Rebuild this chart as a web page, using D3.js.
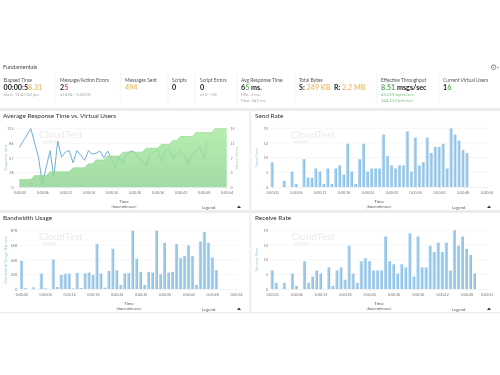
<!DOCTYPE html>
<html><head><meta charset="utf-8">
<script src="https://cdn.jsdelivr.net/npm/d3@7/dist/d3.min.js"></script>
<style>
html,body{margin:0;padding:0;background:#fff}
svg{display:block;filter:blur(0.45px)}
text{font-family:Lato,"Open Sans",sans-serif}
</style></head><body><svg id="c" width="500" height="375"></svg>
<script>
const xTicks=[0,6,12,18,24,30,36,42,48,54];
const xTickLabels=["0:00:00","0:00:06","0:00:12","0:00:18","0:00:24","0:00:30","0:00:36","0:00:42","0:00:48","0:00:54"];
const xTicksReceive=[0,6,12,18,24,30,36,42,48,53];
const xTickLabelsReceive=["0:00:00","0:00:06","0:00:12","0:00:18","0:00:24","0:00:30","0:00:36","0:00:42","0:00:48","0:00:53"];
const responseLabels=["0","28","57","86","115"];
const usersLabels=["0","3","7","11","15"];
const rateLabels=["0","5","10","14","19"];
const bandwidthLabels=["0","21K","43K","65K","87K"];
const responseTimes=[78,,,115,,59,6.5,,72,20,91,59,69,72,48,72,63,53,72,65,67,71,58,71,56,38,59,49,66,71,69,58,51,42,64,69,74,51,72,76,58,63,72,63,45,63,71,80,58,89];
const virtualUsers=[2,2,2,2,3,3,3,3,4,4,4,4,4,4,5,5,5,5,6,6,7,7,7,8,8,8,8,9,9,9,9,9,9,10,10,10,10,11,11,11,12,12,13,13,13,13,14,14,14,14,14,15,15,15,15];
const sendRate=[8,0,0,2,0,5,1,0,9,3,3,6,5,1,6,1,6,7,4,14,5,1,9,14,5,6,6,6,17,10,7,6,7,7,18,5,16,7,8,16,11,13,13,14,6,19,17,15,12,11];
const bandwidth=[42,1.5,0,2.5,0,23,1,0,44,3,21,23,23,1,24,1.5,23.5,24.5,21,67,23,2,27,60,28,6,23.5,23.5,87,45,25.5,6,25.5,24.5,87,22,69,24.5,25.5,67,46,49,65,49,6,71,85,69,47,28];
const receiveRate=[6,2,0,2,0,5,1,0,9,2,4,6,5,0,7,1,6,7,3,14,5,2,9,10,9,6,6,6,17,9,8,5,8,7,18,4,17,7,7,14,12,15,12,15,6,19,14,17,13,11,5];
const cards=[
 {x:3.5,t:"Elapsed Time",v:[["00:00:5","#222"],["8.31","#eebf6c"]],s:["Start: 11:47:08 pm"]},
 {x:60,t:"Message/Action Errors",v:[["2","#222"],["5","#d9534f"]],s:["of 494 - 5.061%"]},
 {x:125,t:"Messages Sent",v:[["494","#eebf6c"]],s:[]},
 {x:172,t:"Scripts",v:[["0","#222"]],s:[]},
 {x:200,t:"Script Errors",v:[["0","#222"]],s:["of 0 - 0%"]},
 {x:241,t:"Avg Response Time",v:[["6","#222"],["5","#6cb86c"],[" ms.","#222"]],s:["Min: 3 ms.","Max: 243 ms."]},
 {x:299,t:"Total Bytes",v:[["S: ","#222"],["249 KB","#eebf6c"],["  R: ","#222"],["2.2 MB","#eebf6c"]],s:[]},
 {x:381,t:"Effective Throughput",v:[["8.51","#58a858"],[" msgs/sec","#222"]],s:["43,019 bytes/sec.","344,152 bits/sec."],sc:"#7fbf7f"},
 {x:443,t:"Current Virtual Users",v:[["1","#222"],["6","#58a858"]],s:[]}];
const separators=[55,121,168,195,237,295,377,439];

const svg=d3.select("#c");
const defs=svg.append("defs");
const ag=defs.append("linearGradient").attr("id","ag").attr("x1",0).attr("x2",0).attr("y1",0).attr("y2",1);
ag.append("stop").attr("offset",0).attr("stop-color","#a5ea9d");
ag.append("stop").attr("offset",1).attr("stop-color","#8ed391");
const bg=defs.append("linearGradient").attr("id","bg").attr("x1",0).attr("x2",1);
bg.append("stop").attr("offset",0).attr("stop-color","#bcdcf2");
bg.append("stop").attr("offset",1).attr("stop-color","#7fb8e0");

[[0,108,500,3],[0,210,500,3],[0,312,500,1.5]].forEach(r=>svg.append("rect").attr("x",r[0]).attr("y",r[1]).attr("width",r[2]).attr("height",r[3]).attr("fill","#ececec"));
svg.append("rect").attr("x",249).attr("y",111).attr("width",2.5).attr("height",201).attr("fill","#f2f2f2");

svg.append("text").attr("x",3).attr("y",69).attr("font-size",5.6).attr("fill","#444").text("Fundamentals");
svg.append("text").attr("x",490).attr("y",70).attr("font-size",8).attr("fill","#888").style("font-family","DejaVu Sans").text("\u2699");
svg.append("path").attr("d",d3.line()([[497,67],[499,67],[498,68.5]])).attr("fill","#888");
separators.forEach(x=>svg.append("line").attr("x1",x).attr("x2",x).attr("y1",73).attr("y2",105).attr("stroke","#eee").attr("stroke-width",.7));
cards.forEach(c=>{
 svg.append("text").attr("x",c.x).attr("y",81.5).attr("font-size",4.9).attr("fill","#555").text(c.t);
 const t=svg.append("text").attr("x",c.x).attr("y",90).attr("font-size",7.2).attr("font-weight",700);
 c.v.forEach(v=>t.append("tspan").attr("fill",v[1]).style("white-space","pre").text(v[0]));
 c.s.forEach((s,i)=>svg.append("text").attr("x",c.x).attr("y",96+i*5.6).attr("font-size",4.3).attr("fill",c.sc||"#aaa").text(s));
});

function frame(o){
 svg.append("text").attr("x",o.tx).attr("y",o.ty).attr("font-size",6.4).attr("fill","#333").text(o.title);
 svg.append("text").attr("x",o.wx).attr("y",o.wy).attr("font-size",10).attr("fill","#eaeaea").text("CloudTest");
 svg.append("text").attr("x",o.wx+3).attr("y",o.wy+4.5).attr("font-size",2.8).attr("fill","#e4e4e4").text("by SOASTA");
 svg.append("text").attr("x",o.cx).attr("y",o.y0+15.5).attr("font-size",4.6).attr("fill","#555").attr("text-anchor","middle").text("Time");
 svg.append("text").attr("x",o.cx).attr("y",o.y0+20.5).attr("font-size",4).attr("fill","#555").attr("text-anchor","middle").text("[hour:min:sec]");
 svg.append("text").attr("x",o.lx).attr("y",o.y0+21.5).attr("font-size",4.2).attr("fill","#555").text("Legend");
 svg.append("path").attr("d",d3.line()([[o.lx+35,o.y0+21],[o.lx+37,o.y0+18.5],[o.lx+39,o.y0+21]])).attr("fill","#333");
}
function xAxis(g,x,ticks,labels,y0){
 const ax=d3.axisBottom(x).tickValues(ticks).tickFormat((d,i)=>labels[i]).tickSize(1.5).tickPadding(2.5);
 const a=g.append("g").attr("transform",`translate(0,${y0})`).call(ax);
 a.select(".domain").attr("stroke","#e8e8e8").attr("stroke-width",.6);
 a.selectAll("line").attr("stroke","#ddd").attr("stroke-width",.5);
 a.selectAll("text").attr("font-size",3.6).attr("fill","#777");
}
function yAxis(g,y,labels,max,xLeft,xRight,right){
 const vals=labels.map((_,i)=>i/(labels.length-1)*max);
 const ax=(right?d3.axisRight(y):d3.axisLeft(y)).tickValues(vals).tickFormat((d,i)=>labels[i]).tickSize(0).tickPadding(2.5);
 const a=g.append("g").attr("transform",`translate(${right?xRight:xLeft},0)`).call(ax);
 a.select(".domain").remove();
 a.selectAll("text").attr("font-size",3.6).attr("fill","#777");
 if(!right) g.append("g").selectAll("line").data(vals.slice(1)).join("line")
  .attr("x1",xLeft).attr("x2",xRight).attr("y1",d=>y(d)).attr("y2",d=>y(d)).attr("stroke","#f0f0f0").attr("stroke-width",.6);
}
function yTitle(x,y,t,c){
 svg.append("text").attr("transform",`translate(${x},${y}) rotate(-90)`).attr("text-anchor","middle").attr("font-size",4.2).attr("fill",c).text(t);
}
function bars(o){
 frame(o);
 const g=svg.append("g");
 const x=d3.scaleLinear().domain(o.xd).range(o.xr);
 const y=d3.scaleLinear().domain([0,o.max]).range([o.y0,o.y1]);
 yAxis(g,y,o.labels,o.max,o.xr[0]-1.5,o.xr[1]+1.5,false);
 xAxis(g,x,o.ticks,o.tl,o.y0);
 g.selectAll("rect").data(o.data).join("rect")
  .attr("x",(d,i)=>x(i)-1.45).attr("width",2.9)
  .attr("y",d=>y(d)).attr("height",d=>o.y0-y(d)).attr("fill","url(#bg)");
 yTitle(o.xr[0]-14,(o.y0+o.y1)/2,o.ytitle,"#9fc7e0");
}
frame({title:"Average Response Time vs. Virtual Users",tx:3,ty:118,wx:39,wy:138,cx:124,y0:187,lx:202});
const g1=svg.append("g");
const x1=d3.scaleLinear().domain([0,54]).range([19.3,226.7]);
const yR=d3.scaleLinear().domain([0,115]).range([187.3,128.7]);
const yU=d3.scaleLinear().domain([0,15]).range([187.3,128.7]);
yAxis(g1,yR,responseLabels,115,16,228,false);
yAxis(g1,yU,usersLabels,15,16,228,true);
xAxis(g1,x1,xTicks,xTickLabels,187.3);
const lineData=Array.from(responseTimes,(v,i)=>[i,v]).filter(d=>d[1]!=null);
g1.append("path").datum(lineData).attr("fill","none").attr("stroke","#6fb0d4").attr("stroke-width",1)
 .attr("stroke-linejoin","round").attr("d",d3.line().x(d=>x1(d[0])).y(d=>yR(d[1])));
g1.append("path").datum(virtualUsers).attr("fill","url(#ag)").attr("fill-opacity",.82)
 .attr("d",d3.area().x((d,i)=>x1(i)).y0(187.3).y1(d=>yU(d)));
g1.append("path").datum(virtualUsers).attr("fill","none").attr("stroke","#8ed48a").attr("stroke-width",.6)
 .attr("d",d3.line().x((d,i)=>x1(i)).y(d=>yU(d)));
yTitle(7,158,"Response (ms)","#9fc7e0");
yTitle(238,158,"Virtual Users","#a6d9a6");
bars({title:"Send Rate",tx:255,ty:118,wx:291,wy:138,cx:379,y0:187,y1:128.3,lx:452,xd:[0,54],xr:[272,486.7],ticks:xTicks,tl:xTickLabels,labels:rateLabels,max:19,data:sendRate,ytitle:"Send Rate"});
bars({title:"Bandwidth Usage",tx:3,ty:219.5,wx:39,wy:240,cx:129,y0:289,y1:230.7,lx:202,xd:[0,54],xr:[21.3,236],ticks:xTicks,tl:xTickLabels,labels:bandwidthLabels,max:87,data:bandwidth,ytitle:"Bandwidth Usage (kb/sec)"});
bars({title:"Receive Rate",tx:255,ty:219.5,wx:291,wy:240,cx:379,y0:289,y1:230.3,lx:452,xd:[0,53],xr:[272,486.7],ticks:xTicksReceive,tl:xTickLabelsReceive,labels:rateLabels,max:19,data:receiveRate,ytitle:"Receive Rate"});
</script></body></html>
